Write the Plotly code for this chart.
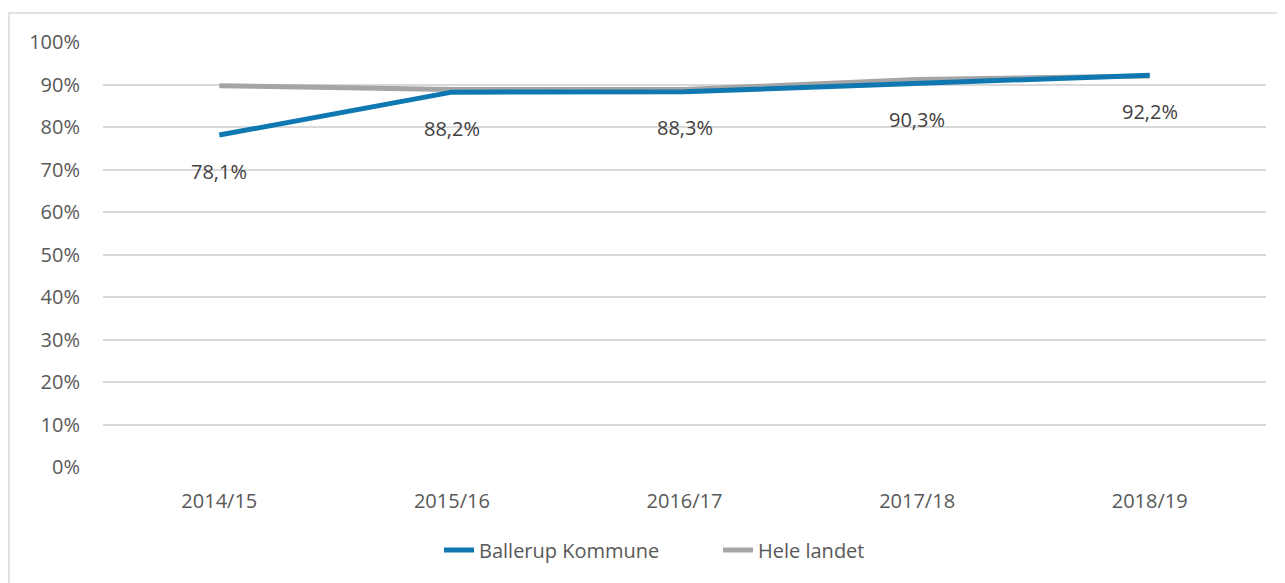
import plotly.graph_objects as go

categories = ["2014/15", "2015/16", "2016/17", "2017/18", "2018/19"]
ballerup = [78.1, 88.2, 88.3, 90.3, 92.2]
hele_landet = [89.7, 88.8, 88.8, 91.2, 92.0]
y_ticks = [0, 10, 20, 30, 40, 50, 60, 70, 80, 90, 100]
y_tick_labels = [f"{v}%" for v in y_ticks]

# page body has an 8px margin; the figure starts at (8, 8)
OFF = 8
W, H = 1285 - OFF, 583 - OFF
L, T = 103 - OFF, 42 - OFF
R = W - (1266 - OFF)
B = H - (467 - OFF)
pw, ph = W - L - R, H - T - B

font_family = "Open Sans"
text_color = "#595959"
FS = 20

fig = go.Figure()
fig.add_trace(go.Scatter(
    x=categories, y=hele_landet, mode="lines", name="Hele landet",
    line=dict(color="#A5A5A5", width=5),
))
fig.add_trace(go.Scatter(
    x=categories, y=ballerup, mode="lines", name="Ballerup Kommune",
    line=dict(color="#0F78B0", width=5),
))

for c, v in zip(categories, ballerup):
    fig.add_annotation(
        x=c, y=v, text=f"{v:.1f}%".replace(".", ","), showarrow=False,
        yshift=-36, font=dict(family=font_family, size=FS, color="#404040"),
    )

# outer chart border (left/top visible)
fig.add_shape(
    type="rect", xref="paper", yref="paper",
    x0=(9 - OFF - L) / pw, x1=(W + 10 - L) / pw,
    y0=-(H + 10 - T - ph) / ph, y1=(T - (13 - OFF) + ph) / ph,
    line=dict(color="#D9D9D9", width=1.5), layer="below",
)

fig.update_layout(
    width=W, height=H,
    margin=dict(l=L, r=R, t=T, b=B),
    paper_bgcolor="white", plot_bgcolor="white",
    separators=",.",
    font=dict(family=font_family, size=FS, color=text_color),
    showlegend=True,
    legend=dict(
        orientation="h", x=(444 - 103 - 5) / pw, xanchor="left",
        y=-(550 - 467) / ph, yanchor="middle",
        traceorder="reversed", font=dict(size=FS, color=text_color),
        entrywidth=234,
    ),
    xaxis=dict(
        showgrid=False, showline=False, zeroline=False,
        ticks="", ticklabelstandoff=20,
        range=[-0.5, 4.5],
    ),
    yaxis=dict(
        range=[0, 100], tickvals=y_ticks, ticktext=y_tick_labels,
        showgrid=True, gridcolor="#D9D9D9", gridwidth=1.5,
        zeroline=False, showline=False, ticks="", ticklabelstandoff=22,
    ),
)

fig.write_html("out.html")
